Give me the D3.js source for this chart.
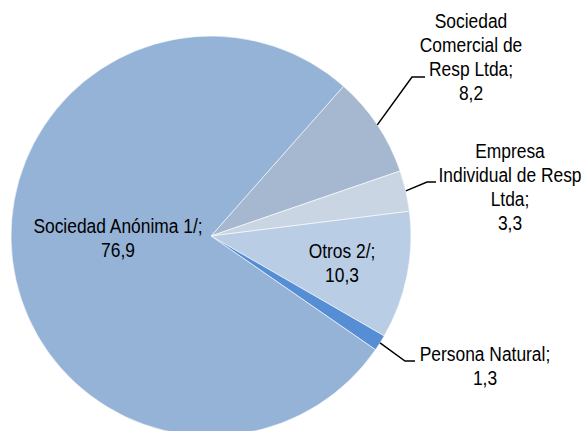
<!DOCTYPE html>
<html>
<head>
<meta charset="utf-8">
<script src="https://cdn.jsdelivr.net/npm/d3@7"></script>
<style>
  body { margin: 0; background: #fff; }
  text { font-family: "Liberation Sans", Arial, sans-serif; fill: #000; }
</style>
</head>
<body>
<div id="container"></div>
<script>
//DATA (clockwise from the top-right)
const categories = ['Sociedad Comercial de Resp Ltda', 'Empresa Individual de Resp Ltda', 'Otros 2/', 'Persona Natural', 'Sociedad Anónima 1/']
const values = [8.2, 3.3, 10.3, 1.3, 76.9]
const labelLines = [
    ['Sociedad', 'Comercial de', 'Resp Ltda;', '8,2'],
    ['Empresa', 'Individual de Resp', 'Ltda;', '3,3'],
    ['Otros 2/;', '10,3'],
    ['Persona Natural;', '1,3'],
    ['Sociedad Anónima 1/;', '76,9']
]
const colors = ['#A6B8CF', '#C9D5E2', '#B9CDE5', '#558ED5', '#95B3D7']

//BOX
const w = 586
const h = 431
const cx = 211
const cy = 236
const r = 200
const startDeg = 41.5

//LABEL LAYOUT (text centre x, first baseline y, elbow of leader, or null for inside labels)
const labelLayout = [
    { x: 471, y: 28, elbow: [412, 77], end: [425, 77] },
    { x: 510, y: 158, elbow: [427, 182], end: [436, 182] },
    { x: 342, y: 258, elbow: null },
    { x: 485, y: 361, elbow: [405, 361], end: [415, 361] },
    { x: 118, y: 233, elbow: null }
]
const lineH = 24
const fontSize = 20
const squeeze = 0.87 //narrow face is not installed, so condense Liberation Sans

const svg = d3.select('#container')
    .append('svg')
    .attr('width', w)
    .attr('height', h)

const pie = d3.pie()
    .sort(null)
    .startAngle(startDeg * Math.PI / 180)
    .endAngle(startDeg * Math.PI / 180 + 2 * Math.PI)

const arcs = pie(values)

const arc = d3.arc()
    .innerRadius(0)
    .outerRadius(r)

const g = svg.append('g')
    .attr('transform', 'translate(' + cx + ',' + cy + ')')

//SLICES
g.selectAll('path')
    .data(arcs)
    .enter()
    .append('path')
    .attr('d', arc)
    .attr('fill', (d, i) => colors[i])
    .attr('stroke', '#fff')
    .attr('stroke-width', 0.6)

//LEADER LINES
svg.append('g')
    .selectAll('polyline')
    .data(arcs.filter((d, i) => labelLayout[i].elbow))
    .enter()
    .append('polyline')
    .attr('points', d => {
        const i = d.index
        const mid = (d.startAngle + d.endAngle) / 2
        const px = cx + r * Math.sin(mid)
        const py = cy - r * Math.cos(mid)
        const L = labelLayout[i]
        return [[px, py], L.elbow, L.end].map(p => p.join(',')).join(' ')
    })
    .attr('fill', 'none')
    .attr('stroke', '#000')
    .attr('stroke-width', 1.5)

//LABELS
const labels = svg.append('g')
    .selectAll('text')
    .data(labelLines)
    .enter()
    .append('text')
    .attr('text-anchor', 'middle')
    .attr('font-size', fontSize)
    .attr('transform', (d, i) => 'translate(' + labelLayout[i].x + ',' + labelLayout[i].y + ') scale(' + squeeze + ',1)')

labels.selectAll('tspan')
    .data(d => d)
    .enter()
    .append('tspan')
    .attr('x', 0)
    .attr('y', (d, j) => j * lineH)
    .text(d => d)
</script>
</body>
</html>
